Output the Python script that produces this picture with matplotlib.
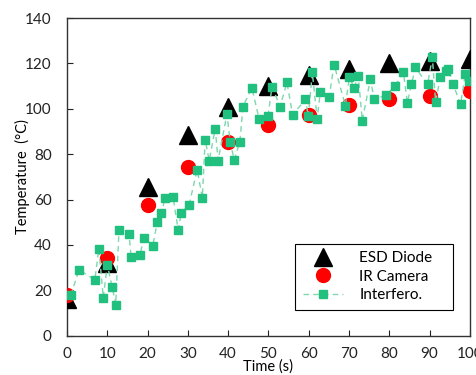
import matplotlib
matplotlib.use("Agg")
import matplotlib.pyplot as plt

plt.rcParams["font.family"] = ["Lato", "DejaVu Sans"]

# reference points
t_ref = [0, 10, 20, 30, 40, 50, 60, 70, 80, 90, 100]
esd_diode = [16, 32, 65.5, 88.4, 101, 110.1, 115.1, 117.6, 120.3, 121.0, 121.9]
ir_camera = [17.8, 34.1, 57.8, 74.2, 85.5, 92.8, 97.3, 101.6, 104.2, 105.7, 107.9]

# interferometer samples
t_int = [0.9, 3.0, 6.9, 7.9, 9.0, 10.0, 11.2, 12.1, 12.9, 15.4, 15.9, 18.1, 19.1,
         21.3, 22.4, 23.4, 24.4, 26.3, 27.6, 28.4, 30.3, 32.3, 33.6, 34.3, 35.3,
         36.8, 37.5, 39.7, 40.5, 41.5, 42.9, 43.7, 45.9, 47.7, 49.9, 50.9, 52.9,
         54.6, 56.0, 59.2, 59.9, 60.9, 62.1, 62.9, 65.1, 66.3, 69.1, 70.1, 71.3,
         72.3, 73.3, 75.3, 76.3, 79.3, 81.5, 83.5, 84.5, 85.5, 86.5, 89.5, 90.7,
         91.5, 92.7, 94.0, 94.7, 95.9, 97.7, 98.9, 99.9]
interfero = [17.8, 29.0, 24.6, 38.4, 16.8, 31.2, 21.6, 13.7, 46.7, 44.8, 34.7, 35.6, 43.2,
             39.6, 50.1, 54.2, 60.7, 61.3, 46.7, 54.2, 57.6, 73.1, 60.9, 86.4, 77.2,
             91.3, 77.2, 97.6, 85.5, 77.5, 85.5, 101.0, 109.3, 95.4, 97.0, 109.8, 101.0,
             111.6, 97.4, 104.1, 96.6, 116.0, 95.7, 107.6, 105.4, 119.5, 101.4, 113.8, 109.3,
             114.6, 94.8, 112.9, 104.1, 106.1, 110.2, 116.0, 102.7, 110.7, 118.2, 110.7, 122.6,
             103.2, 113.8, 116.8, 117.7, 110.7, 101.9, 115.5, 112.4]

fig = plt.figure(figsize=(4.76, 3.75), dpi=100)
ax = fig.add_axes([0.1408, 0.1048, 0.8462, 0.8472])

ax.plot(t_ref, esd_diode, linestyle='none', marker='^', ms=13.5, color='black',
        label='ESD Diode', zorder=3)
ax.plot(t_ref, ir_camera, linestyle='none', marker='o', ms=10, color='#ff0000',
        label='IR Camera', zorder=4)
ax.plot(t_int, interfero, linestyle=(0, (4, 3)), lw=1, color='#7dd8ae',
        marker='s', ms=5.5, mfc='#21c07f', mec='#21c07f', label='Interfero.', zorder=5)

ax.set_xlim(0, 100)
ax.set_ylim(0, 140)
ax.set_xticks(range(0, 101, 10))
ax.set_yticks(range(0, 141, 20))
ax.tick_params(direction='in', length=4, labelsize=11, colors='#222222')
ax.tick_params(axis='x', pad=8)
ax.tick_params(axis='y', pad=11)
for s in ax.spines.values():
    s.set_linewidth(1.0)
    s.set_color('#333333')

ax.set_xlabel('Time (s)', fontsize=10.5, labelpad=-1)
ax.set_ylabel('Temperature  (°C)', fontsize=10.5)
ax.yaxis.set_label_coords(-0.092, 0.5)

leg = ax.legend(loc='lower left', bbox_to_anchor=(0.5665, 0.081, 0.392, 0.215),
                mode='expand', borderaxespad=0, fontsize=11,
                fancybox=False, edgecolor='black', handlelength=2.6,
                handletextpad=1.1, borderpad=0.5, labelspacing=0.3, framealpha=1)
leg.get_frame().set_linewidth(0.8)

fig.savefig('out.png', dpi=100)
